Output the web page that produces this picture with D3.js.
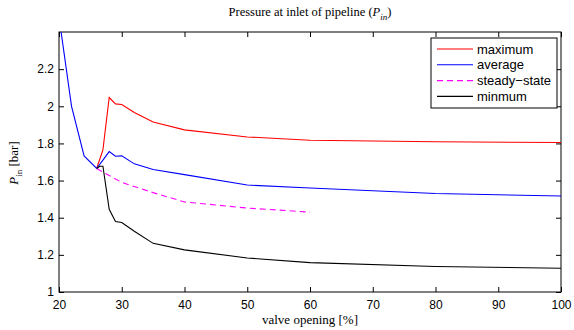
<!DOCTYPE html>
<html>
<head>
<meta charset="utf-8">
<script src="https://cdn.jsdelivr.net/npm/d3@7"></script>
<style>
  html, body { margin: 0; padding: 0; background: #fff; }
  svg { display: block; }
</style>
</head>
<body>
<div id="chart"></div>
<script>
// valve opening [%] per series
const avgX = [20, 22, 24, 26, 27, 28, 29, 30, 32, 35, 40, 50, 60, 80, 100];
const avgY = [2.48, 2.0, 1.733, 1.665, 1.71, 1.756, 1.731, 1.733, 1.69, 1.66, 1.632, 1.576, 1.56, 1.53, 1.517];

const maxX = [26, 27, 28, 29, 30, 32, 35, 40, 50, 60, 80, 100];
const maxY = [1.665, 1.765, 2.047, 2.013, 2.01, 1.967, 1.915, 1.873, 1.835, 1.817, 1.809, 1.805];

const steadyX = [26, 28, 30, 35, 40, 50, 60];
const steadyY = [1.665, 1.627, 1.59, 1.535, 1.485, 1.452, 1.43];

const minX = [26, 26.5, 27, 28, 29, 30, 32, 35, 40, 50, 60, 80, 100];
const minY = [1.665, 1.677, 1.677, 1.445, 1.38, 1.374, 1.327, 1.262, 1.227, 1.183, 1.158, 1.137, 1.128];

const xTicks = [20, 30, 40, 50, 60, 70, 80, 90, 100];
const yTicks = [1, 1.2, 1.4, 1.6, 1.8, 2, 2.2];

const legendNames = ['maximum', 'average', 'steady\u2212state', 'minmum'];

const W = 574, H = 330;
const margin = { left: 59, right: 13, top: 32, bottom: 38 };
const iw = W - margin.left - margin.right;
const ih = H - margin.top - margin.bottom;

const svg = d3.select('#chart').append('svg')
  .attr('width', W)
  .attr('height', H);

const x = d3.scaleLinear().domain([20, 100]).range([0, iw]);
const y = d3.scaleLinear().domain([1, 2.4]).range([ih, 0]);

const g = svg.append('g').attr('transform', `translate(${margin.left},${margin.top})`);

svg.append('defs').append('clipPath').attr('id', 'clip')
  .append('rect').attr('width', iw).attr('height', ih);

// axes, ticks pointing inward (matlab style box)
const tickFont = 'Liberation Sans, Arial, sans-serif';
const fmt = d => d3.format('')(+d.toFixed(1));

function styleAxis(sel, hideText) {
  sel.select('.domain').remove();
  sel.selectAll('line').attr('stroke', '#000').attr('stroke-width', 1);
  sel.selectAll('text')
    .style('font-family', tickFont)
    .style('font-size', '12px')
    .attr('fill', '#000');
  if (hideText) sel.selectAll('text').remove();
}

g.append('g').attr('transform', `translate(0,${ih})`)
  .call(d3.axisBottom(x).tickValues(xTicks).tickSize(-5).tickPadding(8).tickFormat(fmt))
  .call(s => styleAxis(s, false));
g.append('g')
  .call(d3.axisTop(x).tickValues(xTicks).tickSize(-5).tickFormat(''))
  .call(s => styleAxis(s, true));
g.append('g')
  .call(d3.axisLeft(y).tickValues(yTicks).tickSize(-5).tickPadding(5).tickFormat(fmt))
  .call(s => styleAxis(s, false));
g.append('g').attr('transform', `translate(${iw},0)`)
  .call(d3.axisRight(y).tickValues(yTicks).tickSize(-5).tickFormat(''))
  .call(s => styleAxis(s, true));

// plot box
g.append('rect')
  .attr('width', iw).attr('height', ih)
  .attr('fill', 'none').attr('stroke', '#000').attr('stroke-width', 1);

// series
const series = [
  { xs: maxX, ys: maxY, color: '#ff0000', dash: null },
  { xs: avgX, ys: avgY, color: '#0000ff', dash: null },
  { xs: steadyX, ys: steadyY, color: '#ff00ff', dash: '6,4' },
  { xs: minX, ys: minY, color: '#000000', dash: null }
];

const line = d3.line().x(d => x(d[0])).y(d => y(d[1]));
const plot = g.append('g').attr('clip-path', 'url(#clip)');

series.forEach(s => {
  plot.append('path')
    .datum(s.xs.map((v, i) => [v, s.ys[i]]))
    .attr('d', line)
    .attr('fill', 'none')
    .attr('stroke', s.color)
    .attr('stroke-width', 1.1)
    .attr('stroke-dasharray', s.dash);
});

// legend
const lg = g.append('g').attr('transform', `translate(${iw - 130},6)`);
lg.append('rect')
  .attr('width', 126).attr('height', 70)
  .attr('fill', '#fff').attr('stroke', '#000').attr('stroke-width', 1);
series.forEach((s, i) => {
  const ly = 11 + i * 15.8;
  lg.append('line')
    .attr('x1', 6).attr('x2', 42).attr('y1', ly).attr('y2', ly)
    .attr('stroke', s.color).attr('stroke-width', 1.1)
    .attr('stroke-dasharray', s.dash);
  lg.append('text')
    .attr('x', 46).attr('y', ly)
    .attr('dominant-baseline', 'central')
    .style('font-family', tickFont)
    .style('font-size', '13px')
    .text(legendNames[i]);
});

// title and labels
const serif = 'Liberation Serif, Times New Roman, serif';

const title = svg.append('text')
  .attr('x', margin.left + iw / 2).attr('y', 16)
  .attr('text-anchor', 'middle')
  .style('font-family', serif).style('font-size', '12.5px');
title.append('tspan').text('Pressure at inlet of pipeline (');
title.append('tspan').style('font-style', 'italic').text('P');
title.append('tspan').style('font-style', 'italic').style('font-size', '9px').attr('dy', 4).text('in');
title.append('tspan').attr('dy', -4).text(')');

svg.append('text')
  .attr('x', margin.left + iw / 2).attr('y', 324)
  .attr('text-anchor', 'middle')
  .style('font-family', serif).style('font-size', '13px')
  .text('valve opening [%]');

const ylab = svg.append('text')
  .attr('transform', 'translate(18,163) rotate(-90)')
  .attr('text-anchor', 'middle')
  .style('font-family', serif).style('font-size', '13px');
ylab.append('tspan').style('font-style', 'italic').text('P');
ylab.append('tspan').style('font-size', '9px').attr('dy', 4).text('in');
ylab.append('tspan').attr('dy', -4).text(' [bar]');
</script>
</body>
</html>
